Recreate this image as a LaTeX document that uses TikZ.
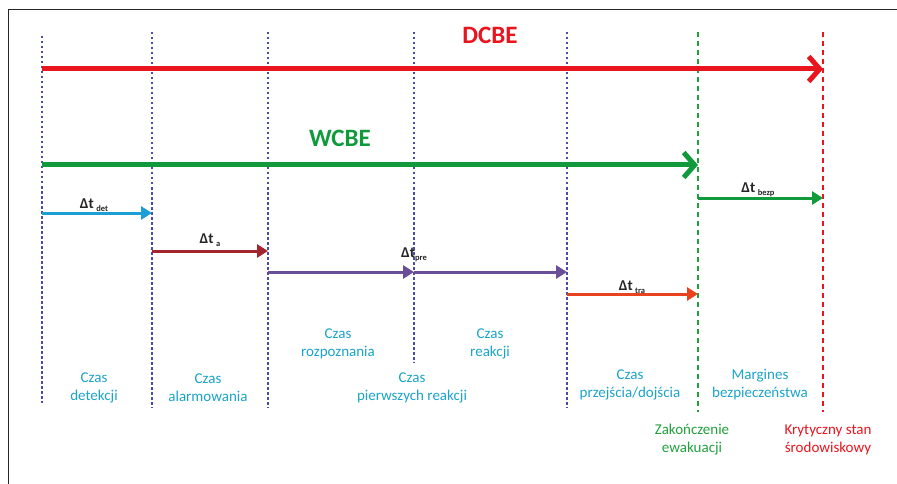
\documentclass[tikz,border=0pt]{standalone}
\usepackage{fontspec}
\setmainfont{Carlito}
\usetikzlibrary{arrows.meta}

\definecolor{lineblue}{HTML}{4B4BAA}
\definecolor{dcbered}{HTML}{E8141E}
\definecolor{wcbegreen}{HTML}{109A3C}
\definecolor{detcyan}{HTML}{1C9ED6}
\definecolor{adarkred}{HTML}{A2262B}
\definecolor{prepurple}{HTML}{6A4F98}
\definecolor{traorange}{HTML}{E8421E}
\definecolor{phasecyan}{HTML}{1BA3C9}
\definecolor{endgreen}{HTML}{22A03E}

\tikzstyle{vline}=[line width=2.5pt, lineblue, dash pattern=on 2.5pt off 2.5pt]
\tikzstyle{endline}=[line width=2.2pt, dash pattern=on 5pt off 4pt]
\tikzstyle{bigarrow}=[line width=5pt, -{Straight Barb[length=11pt,width=25pt]}]
\tikzstyle{smallarrow}=[line width=3pt, -{Triangle[length=11pt,width=13pt]}]
\tikzstyle{phase}=[text=phasecyan, align=center, font=\fontsize{15}{18}\selectfont]
\tikzstyle{dtlabel}=[anchor=base, inner sep=0pt, text=black!85, font=\fontsize{15}{16}\selectfont\bfseries]
\tikzstyle{title}=[font=\fontsize{25}{28}\selectfont\bfseries]

\newcommand{\dtsub}[1]{\raisebox{-3pt}{\fontsize{8.5}{9}\selectfont #1}}

\begin{document}
\begin{tikzpicture}[x=1pt,y=-1pt]
\useasboundingbox (0,0) rectangle (897,484);
\draw[line width=1pt, black!85] (8,484) -- (8,10) -- (897,10);

% time marks
\coordinate (c0) at (42,36);   \coordinate (b0) at (42,403);
\coordinate (c1) at (152,32);  \coordinate (b1) at (152,408);
\coordinate (c2) at (268,32);  \coordinate (b2) at (268,408);
\coordinate (c3) at (414,32);  \coordinate (b3) at (414,363);
\coordinate (c4) at (567,32);  \coordinate (b4) at (567,408);
\coordinate (c5) at (698,32);  \coordinate (b5) at (698,412);
\coordinate (c6) at (823,32);  \coordinate (b6) at (823,412);
\foreach \i in {0,...,4}
  \draw[vline] (c\i) -- (b\i);
\draw[endline, endgreen] (c5) -- (b5);
\draw[endline, dcbered] (c6) -- (b6);

% DCBE / WCBE
\coordinate (dcbeS) at (42,69);  \coordinate (dcbeE) at (823,69);
\coordinate (wcbeS) at (42,165); \coordinate (wcbeE) at (698,165);
\draw[bigarrow, dcbered] (dcbeS) -- (dcbeE);
\draw[bigarrow, wcbegreen] (wcbeS) -- (wcbeE);
\node[title, text=dcbered] (dcbe) at (490,35) {DCBE};
\node[title, text=wcbegreen] (wcbe) at (340,138) {WCBE};

% phase arrows
\coordinate (detS) at (42,213);   \coordinate (detE) at (152,213);
\coordinate (aS) at (152,251);    \coordinate (aE) at (268,251);
\coordinate (preS) at (268,272);  \coordinate (preM) at (414,272);
\coordinate (preE) at (567,272);
\coordinate (traS) at (567,294);  \coordinate (traE) at (698,294);
\coordinate (bezpS) at (698,198); \coordinate (bezpE) at (823,198);
\draw[smallarrow, detcyan] (detS) -- (detE);
\draw[smallarrow, adarkred] (aS) -- (aE);
\draw[smallarrow, prepurple] (preS) -- (preM);
\draw[smallarrow, prepurple] (preM) -- (preE);
\draw[smallarrow, traorange] (traS) -- (traE);
\draw[smallarrow, wcbegreen] (bezpS) -- (bezpE);

\node[dtlabel] (ldet) at (94,208) {Δt\,\dtsub{det}};
\node[dtlabel] (la) at (210,243) {Δt\,\dtsub{a}};
\node[dtlabel] (lpre) at (414,257) {Δt\dtsub{pre}};
\node[dtlabel] (ltra) at (632,290) {Δt\,\dtsub{tra}};
\node[dtlabel] (lbezp) at (758,193) {Δt\,\dtsub{bezp}};

% phase names
\node[phase] (pdet) at (94,388) {Czas\\detekcji};
\node[phase] (palarm) at (208,388) {Czas\\alarmowania};
\node[phase] (prozp) at (338,344) {Czas\\rozpoznania};
\node[phase] (ppierw) at (412,388) {Czas\\pierwszych reakcji};
\node[phase] (preak) at (490,344) {Czas\\reakcji};
\node[phase] (pprzej) at (630,385) {Czas\\przejścia/dojścia};
\node[phase] (pmarg) at (760,385) {Margines\\bezpieczeństwa};

\node[phase, text=endgreen] (zak) at (692,440) {Zakończenie\\ewakuacji};
\node[phase, text=dcbered] (kryt) at (828,440) {Krytyczny stan\\środowiskowy};
\end{tikzpicture}
\end{document}
